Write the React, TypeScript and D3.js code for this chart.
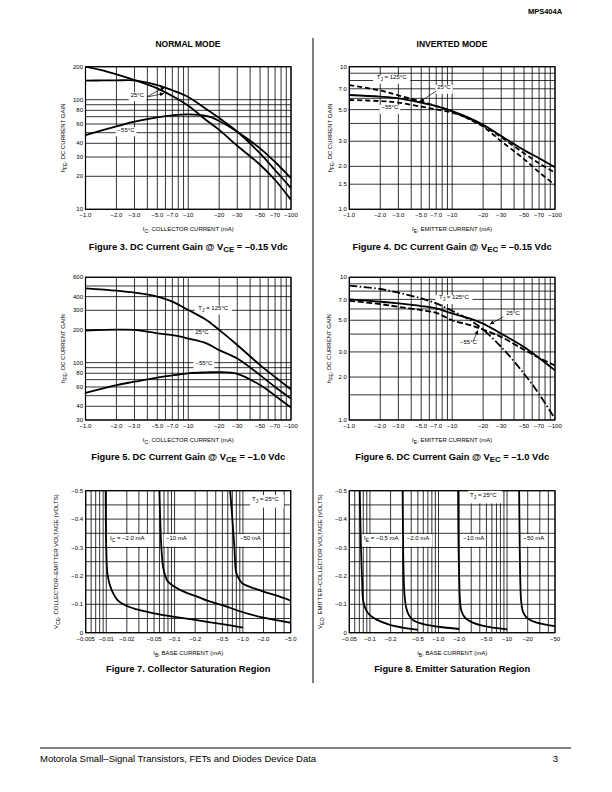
import * as d3 from "d3";

const FONT = "'Liberation Sans', Arial, Helvetica, sans-serif";

type Seg = string | { sub: string };

// ---------- shared axes ----------
const currentTicks = [1, 2, 3, 5, 7, 10, 20, 30, 50, 70, 100];
const currentTickLabels = ["−1.0", "−2.0", "−3.0", "−5.0", "−7.0", "−10", "−20", "−30", "−50", "−70", "−100"];

const base7Ticks = [0.005, 0.01, 0.02, 0.05, 0.1, 0.2, 0.5, 1, 2, 5];
const base7TickLabels = ["−0.005", "−0.01", "−0.02", "−0.05", "−0.1", "−0.2", "−0.5", "−1.0", "−2.0", "−5.0"];
const base8Ticks = [0.05, 0.1, 0.2, 0.5, 1, 2, 5, 10, 20, 50];
const base8TickLabels = ["−0.05", "−0.1", "−0.2", "−0.5", "−1.0", "−2.0", "−5.0", "−10", "−20", "−50"];

const gain3Ticks = [10, 20, 30, 40, 60, 80, 100, 200];
const gain3Grid = [10, 20, 30, 40, 50, 60, 70, 80, 90, 100, 200];
const gain4Ticks = [1, 1.5, 2, 3, 5, 7, 10];
const gain4TickLabels = ["1.0", "1.5", "2.0", "3.0", "5.0", "7.0", "10"];
const gainInvGrid = [1, 1.5, 2, 3, 4, 5, 6, 7, 8, 9, 10];
const gain5Ticks = [30, 40, 60, 80, 100, 200, 300, 400, 600];
const gain5Grid = [30, 40, 50, 60, 70, 80, 90, 100, 200, 300, 400, 500, 600];
const gain6Ticks = [1, 2, 3, 5, 7, 10];
const gain6TickLabels = ["1.0", "2.0", "3.0", "5.0", "7.0", "10"];

const voltTicks = [0, 0.1, 0.2, 0.3, 0.4, 0.5];
const voltTickLabels = ["0", "−0.1", "−0.2", "−0.3", "−0.4", "−0.5"];
const voltGrid = [0, 0.05, 0.1, 0.15, 0.2, 0.25, 0.3, 0.35, 0.4, 0.45, 0.5];

// ---------- Figure 3: hFE vs IC, VCE = -0.15 V ----------
const fig3X = [1, 1.5, 2, 3, 5, 7, 10, 15, 20, 30, 50, 70, 100];
const fig3Hot = [200, 184, 170, 151, 127, 108, 88, 65, 53, 38, 25.5, 18.5, 12.2];
const fig3Room = [149, 150, 150, 150, 136, 122, 106, 82, 68, 51, 32.4, 22.8, 15.6];
const fig3Cold = [47.6, 53, 57, 63, 69, 72, 73.5, 71, 64, 51, 36, 27, 19.2];

// ---------- Figure 4: inverted, VEC = -0.15 V ----------
const fig4X = [1, 2, 3, 5, 7, 10, 15, 20, 30, 50, 70, 100];
const fig4Hot = [7.44, 6.8, 6.3, 5.7, 5.3, 4.85, 4.25, 3.8, 3.0, 2.25, 1.82, 1.48];
const fig4Room = [6.33, 6.16, 6.0, 5.6, 5.3, 4.89, 4.35, 3.92, 3.27, 2.6, 2.28, 1.97];
const fig4Cold = [5.84, 5.74, 5.6, 5.25, 5.02, 4.76, 4.28, 3.86, 3.2, 2.47, 2.1, 1.81];

// ---------- Figure 5: hFE vs IC, VCE = -1.0 V ----------
const fig5X = [1, 2, 3, 5, 7, 10, 15, 20, 30, 50, 70, 100];
const fig5Hot = [476, 453, 435, 400, 360, 302, 245, 199, 145, 95, 74, 57];
const fig5Room = [196, 200, 199, 185, 178, 166, 150, 130, 109, 77, 60, 47];
const fig5Cold = [53, 62.5, 67, 73, 76.5, 80, 81.5, 82, 79, 62.5, 50, 39];

// ---------- Figure 6: inverted, VEC = -1.0 V ----------
const fig6X = [1, 2, 3, 5, 7, 10, 15, 20, 30, 50, 70, 100];
const fig6Hot = [8.74, 8.28, 7.8, 7.11, 6.56, 5.82, 5.0, 4.3, 3.25, 2.11, 1.52, 1.02];
const fig6Room = [7.0, 6.74, 6.56, 6.29, 6.05, 5.58, 5.14, 4.74, 4.03, 3.25, 2.72, 2.23];
const fig6Cold = [6.85, 6.49, 6.21, 5.89, 5.64, 5.0, 4.62, 4.3, 3.82, 3.11, 2.73, 2.41];

// ---------- Figure 7: collector saturation ----------
const ic2X = [0.0098, 0.01, 0.0105, 0.012, 0.015, 0.02, 0.03, 0.05, 0.1, 0.2, 0.5, 1.0];
const ic2V = [0.5, 0.3, 0.2, 0.15, 0.112, 0.094, 0.08, 0.068, 0.056, 0.045, 0.03, 0.018];
const ic10X = [0.06, 0.064, 0.068, 0.073, 0.08, 0.1, 0.15, 0.2, 0.3, 0.5, 1.0, 2.0, 5.0];
const ic10V = [0.5, 0.3, 0.23, 0.2, 0.18, 0.162, 0.14, 0.13, 0.113, 0.097, 0.072, 0.053, 0.035];
const ic50X = [0.65, 0.7, 0.75, 0.8, 0.9, 1.0, 1.5, 2.0, 3.0, 5.0];
const ic50V = [0.5, 0.4, 0.3, 0.21, 0.185, 0.172, 0.155, 0.145, 0.132, 0.113];

// ---------- Figure 8: emitter saturation ----------
const ie05X = [0.071, 0.074, 0.077, 0.08, 0.09, 0.1, 0.125, 0.2, 0.3, 0.5];
const ie05V = [0.5, 0.3, 0.18, 0.11, 0.075, 0.062, 0.046, 0.027, 0.018, 0.01];
const ie2X = [0.3, 0.305, 0.31, 0.32, 0.34, 0.37, 0.43, 0.6, 1.0, 2.0];
const ie2V = [0.5, 0.3, 0.2, 0.13, 0.085, 0.062, 0.044, 0.03, 0.021, 0.013];
const ie10X = [1.93, 1.96, 2.0, 2.05, 2.15, 2.4, 2.9, 4.5, 10];
const ie10V = [0.5, 0.3, 0.2, 0.12, 0.078, 0.055, 0.04, 0.024, 0.012];
const ie50X = [15.0, 15.3, 15.6, 16.0, 17.0, 19, 24, 34, 50];
const ie50V = [0.5, 0.3, 0.18, 0.115, 0.075, 0.055, 0.04, 0.03, 0.023];

// log grid lines 1..9 per decade
function logGrid(lo: number, hi: number) {
  const out: number[] = [];
  for (let e = Math.floor(Math.log10(lo)); e <= Math.ceil(Math.log10(hi)); e++) {
    for (let k = 1; k < 10; k++) {
      const v = +(k * Math.pow(10, e)).toPrecision(3);
      if (v >= lo * 0.999 && v <= hi * 1.001) out.push(v);
    }
  }
  return out;
}

function Rich({ parts, size }: { parts: Seg[]; size: number }) {
  let shifted = false;
  return (
    <>
      {parts.map((p, i) => {
        if (typeof p === "string") {
          const el = (
            <tspan key={i} dy={shifted ? -size * 0.3 : 0}>
              {p}
            </tspan>
          );
          shifted = false;
          return el;
        }
        shifted = true;
        return (
          <tspan key={i} dy={size * 0.3} fontSize={size * 0.85}>
            {p.sub}
          </tspan>
        );
      })}
    </>
  );
}

const textLen = (parts: Seg[], size: number) =>
  parts.reduce((s: number, p) => s + (typeof p === "string" ? p.length : p.sub.length * 0.85), 0) * size * 0.56;

type Series = { xs: number[]; ys: number[]; dash?: string };
type Note = { at: [number, number]; text: Seg[]; anchor?: "start" | "middle" };
type Arrow = { from: [number, number]; to: [number, number] };

type Spec = {
  id: string;
  l: number; r: number; t: number; b: number;
  xDomain: [number, number];
  yDomain: [number, number];
  yLog: boolean;
  xGrid: number[]; yGrid: number[];
  xTicks: number[]; xLabels: string[];
  yTicks: number[]; yLabels: string[];
  series: Series[];
  notes: Note[];
  noteBoxH: number;
  arrows: Arrow[];
  xTitle: Seg[]; yTitle: Seg[]; yTitleX: number;
  caption: Seg[]; captionY: number;
};

function Chart(s: Spec) {
  const x = d3.scaleLog().domain(s.xDomain).range([s.l, s.r]);
  const y = (s.yLog ? d3.scaleLog() : d3.scaleLinear()).domain(s.yDomain).range([s.b, s.t]);
  const line = d3
    .line<[number, number]>()
    .x((d) => x(d[0]))
    .y((d) => y(d[1]))
    .curve(d3.curveCatmullRom.alpha(0.5));
  const cx = (s.l + s.r) / 2;
  const fs = 6;
  return (
    <g>
      <clipPath id={"clip" + s.id}>
        <rect x={s.l} y={s.t} width={s.r - s.l} height={s.b - s.t} />
      </clipPath>
      {/* grid */}
      {s.xGrid.map((v) => (
        <line key={"gx" + v} x1={x(v)} x2={x(v)} y1={s.t} y2={s.b} stroke="#000" strokeWidth={0.8} />
      ))}
      {s.yGrid.map((v) => (
        <line key={"gy" + v} x1={s.l} x2={s.r} y1={y(v)} y2={y(v)} stroke="#000" strokeWidth={0.8} />
      ))}
      <rect x={s.l} y={s.t} width={s.r - s.l} height={s.b - s.t} fill="none" stroke="#000" strokeWidth={1.2} />
      {/* label boxes */}
      {s.notes.map((n, i) => {
        const w = textLen(n.text, fs) + 4;
        const px = x(n.at[0]);
        const left = n.anchor === "start" ? px - 2 : px - w / 2;
        return (
          <rect key={"nb" + i} x={left} y={y(n.at[1]) - s.noteBoxH / 2} width={w} height={s.noteBoxH} fill="#fff" />
        );
      })}
      {/* curves */}
      <g clipPath={`url(#clip${s.id})`}>
        {s.series.map((c, i) => (
          <path
            key={"c" + i}
            d={line(c.xs.map((v, k) => [v, c.ys[k]] as [number, number])) || ""}
            fill="none"
            stroke="#000"
            strokeWidth={1.8}
            strokeDasharray={c.dash}
          />
        ))}
      </g>
      {s.arrows.map((a, i) => (
        <line
          key={"a" + i}
          x1={x(a.from[0])}
          y1={y(a.from[1])}
          x2={x(a.to[0])}
          y2={y(a.to[1])}
          stroke="#000"
          strokeWidth={0.7}
          markerEnd="url(#arrowhead)"
        />
      ))}
      {s.notes.map((n, i) => (
        <text
          key={"nt" + i}
          x={x(n.at[0])}
          y={y(n.at[1])}
          dy="0.35em"
          fontSize={fs}
          textAnchor={n.anchor || "middle"}
        >
          <Rich parts={n.text} size={fs} />
        </text>
      ))}
      {/* tick labels */}
      {s.xTicks.map((v, i) => (
        <text key={"xt" + v} x={x(v)} y={s.b + 8} fontSize={fs} textAnchor="middle">
          {s.xLabels[i]}
        </text>
      ))}
      {s.yTicks.map((v, i) => (
        <text key={"yt" + v} x={s.l - 2.5} y={y(v)} dy="0.35em" fontSize={fs} textAnchor="end">
          {s.yLabels[i]}
        </text>
      ))}
      <text x={cx} y={s.b + 22} fontSize={fs} textAnchor="middle">
        <Rich parts={s.xTitle} size={fs} />
      </text>
      <text transform={`translate(${s.yTitleX},${(s.t + s.b) / 2}) rotate(-90)`} fontSize={fs} textAnchor="middle">
        <Rich parts={s.yTitle} size={fs} />
      </text>
      <text x={cx} y={s.captionY} fontSize={9.3} fontWeight="bold" textAnchor="middle">
        <Rich parts={s.caption} size={9.3} />
      </text>
    </g>
  );
}

const L = { l: 85.5, r: 291 };
const R = { l: 349.3, r: 555 };
const row1 = { t: 66.7, b: 209.3 };
const row2 = { t: 277.3, b: 420 };
const row3 = { t: 490.7, b: 632.7 };

const hfeTitle: Seg[] = ["h", { sub: "FE" }, ", DC CURRENT GAIN"];
const icTitle: Seg[] = ["I", { sub: "C" }, ", COLLECTOR CURRENT (mA)"];
const ieTitle: Seg[] = ["I", { sub: "E" }, ", EMITTER CURRENT (mA)"];
const ibTitle: Seg[] = ["I", { sub: "B" }, ", BASE CURRENT (mA)"];

const charts: Spec[] = [
  {
    id: "3", ...L, ...row1,
    xDomain: [1, 100], yDomain: [10, 200], yLog: true,
    xGrid: logGrid(1, 100), yGrid: gain3Grid,
    xTicks: currentTicks, xLabels: currentTickLabels,
    yTicks: gain3Ticks, yLabels: gain3Ticks.map(String),
    series: [
      { xs: fig3X, ys: fig3Hot },
      { xs: fig3X, ys: fig3Room },
      { xs: fig3X, ys: fig3Cold },
    ],
    notes: [
      { at: [3.2, 106], text: ["25°C"] },
      { at: [2.48, 51], text: ["−55°C"] },
    ],
    noteBoxH: 9,
    arrows: [
      { from: [4.0, 107], to: [5.9, 130] },
      { from: [4.0, 106], to: [5.8, 114] },
    ],
    xTitle: icTitle, yTitle: hfeTitle, yTitleX: 65,
    caption: ["Figure 3. DC Current Gain @ V", { sub: "CE" }, " = –0.15 Vdc"], captionY: 249.5,
  },
  {
    id: "4", ...R, ...row1,
    xDomain: [1, 100], yDomain: [1, 10], yLog: true,
    xGrid: logGrid(1, 100), yGrid: gainInvGrid,
    xTicks: currentTicks, xLabels: currentTickLabels,
    yTicks: gain4Ticks, yLabels: gain4TickLabels,
    series: [
      { xs: fig4X, ys: fig4Hot, dash: "5,3" },
      { xs: fig4X, ys: fig4Room },
      { xs: fig4X, ys: fig4Cold, dash: "5,3" },
    ],
    notes: [
      { at: [2.58, 8.16], text: ["T", { sub: "J" }, " = 125°C"] },
      { at: [8.33, 6.94], text: ["25°C"] },
      { at: [2.48, 5.02], text: ["−55°C"] },
    ],
    noteBoxH: 9,
    arrows: [{ from: [7.0, 6.75], to: [4.87, 5.68] }],
    xTitle: ieTitle, yTitle: hfeTitle, yTitleX: 332,
    caption: ["Figure 4. DC Current Gain @ V", { sub: "EC" }, " = –0.15 Vdc"], captionY: 249.5,
  },
  {
    id: "5", ...L, ...row2,
    xDomain: [1, 100], yDomain: [30, 600], yLog: true,
    xGrid: logGrid(1, 100), yGrid: gain5Grid,
    xTicks: currentTicks, xLabels: currentTickLabels,
    yTicks: gain5Ticks, yLabels: gain5Ticks.map(String),
    series: [
      { xs: fig5X, ys: fig5Hot },
      { xs: fig5X, ys: fig5Room },
      { xs: fig5X, ys: fig5Cold },
    ],
    notes: [
      { at: [17.5, 302], text: ["T", { sub: "J" }, " = 125°C"] },
      { at: [13.6, 181], text: ["25°C"] },
      { at: [14.2, 96], text: ["−55°C"] },
    ],
    noteBoxH: 9,
    arrows: [],
    xTitle: icTitle, yTitle: hfeTitle, yTitleX: 65,
    caption: ["Figure 5. DC Current Gain @ V", { sub: "CE" }, " = –1.0 Vdc"], captionY: 459.5,
  },
  {
    id: "6", ...R, ...row2,
    xDomain: [1, 100], yDomain: [1, 10], yLog: true,
    xGrid: logGrid(1, 100), yGrid: gainInvGrid,
    xTicks: currentTicks, xLabels: currentTickLabels,
    yTicks: gain6Ticks, yLabels: gain6TickLabels,
    series: [
      { xs: fig6X, ys: fig6Hot, dash: "8,2.5,1.5,2.5" },
      { xs: fig6X, ys: fig6Room },
      { xs: fig6X, ys: fig6Cold, dash: "6,2.5" },
    ],
    notes: [
      { at: [10.4, 6.99], text: ["T", { sub: "J" }, " = 125°C"] },
      { at: [39, 5.42], text: ["25°C"] },
      { at: [14.4, 3.39], text: ["−55°C"] },
    ],
    noteBoxH: 9,
    arrows: [
      { from: [31.4, 5.28], to: [23.3, 4.69] },
      { from: [16.05, 3.58], to: [17.8, 4.25] },
    ],
    xTitle: ieTitle, yTitle: hfeTitle, yTitleX: 331,
    caption: ["Figure 6. DC Current Gain @ V", { sub: "EC" }, " = –1.0 Vdc"], captionY: 459.5,
  },
  {
    id: "7", l: 85.7, r: 290.7, ...row3,
    xDomain: [0.005, 5], yDomain: [0, 0.5], yLog: false,
    xGrid: logGrid(0.005, 5), yGrid: voltGrid,
    xTicks: base7Ticks, xLabels: base7TickLabels,
    yTicks: voltTicks, yLabels: voltTickLabels,
    series: [
      { xs: ic2X, ys: ic2V },
      { xs: ic10X, ys: ic10V },
      { xs: ic50X, ys: ic50V },
    ],
    notes: [
      { at: [1.36, 0.4625], text: ["T", { sub: "J" }, " = 25°C"], anchor: "start" },
      { at: [0.0113, 0.325], text: ["I", { sub: "C" }, " = −2.0 mA"], anchor: "start" },
      { at: [0.0748, 0.325], text: ["−10 mA"], anchor: "start" },
      { at: [0.906, 0.325], text: ["−50 mA"], anchor: "start" },
    ],
    noteBoxH: 12.6,
    arrows: [],
    xTitle: ibTitle,
    yTitle: ["V", { sub: "CE" }, ", COLLECTOR–EMITTER VOLTAGE (VOLTS)"], yTitleX: 58,
    caption: ["Figure 7. Collector Saturation Region"], captionY: 671.5,
  },
  {
    id: "8", ...R, ...row3,
    xDomain: [0.05, 50], yDomain: [0, 0.5], yLog: false,
    xGrid: logGrid(0.05, 50), yGrid: voltGrid,
    xTicks: base8Ticks, xLabels: base8TickLabels,
    yTicks: voltTicks, yLabels: voltTickLabels,
    series: [
      { xs: ie05X, ys: ie05V },
      { xs: ie2X, ys: ie2V },
      { xs: ie10X, ys: ie10V },
      { xs: ie50X, ys: ie50V },
    ],
    notes: [
      { at: [2.88, 0.4775], text: ["T", { sub: "J" }, " = 25°C"], anchor: "start" },
      { at: [0.082, 0.325], text: ["I", { sub: "E" }, " = −0.5 mA"], anchor: "start" },
      { at: [0.343, 0.325], text: ["−2.0 mA"], anchor: "start" },
      { at: [2.3, 0.325], text: ["−10 mA"], anchor: "start" },
      { at: [17.3, 0.325], text: ["−50 mA"], anchor: "start" },
    ],
    noteBoxH: 12.6,
    arrows: [],
    xTitle: ibTitle,
    yTitle: ["V", { sub: "EC" }, ", EMITTER–COLLECTOR VOLTAGE (VOLTS)"], yTitleX: 322,
    caption: ["Figure 8. Emitter Saturation Region"], captionY: 671.5,
  },
];

export default function App() {
  return (
    <svg
      width={612}
      height={792}
      viewBox="0 0 612 792"
      style={{ position: "absolute", left: 0, top: 0, background: "#fff" }}
      fontFamily={FONT}
    >
      <defs>
        <marker id="arrowhead" viewBox="0 0 10 10" refX={10} refY={5} markerWidth={5} markerHeight={4} markerUnits="userSpaceOnUse" orient="auto">
          <path d="M0,0 L10,5 L0,10 z" fill="#000" />
        </marker>
      </defs>
      <rect width={612} height={792} fill="#fff" />
      <text x={545} y={14} fontSize={7.5} fontWeight={900} textAnchor="middle">MPS404A</text>
      <text x={188} y={47} fontSize={8.5} fontWeight="bold" textAnchor="middle">NORMAL MODE</text>
      <text x={452} y={47} fontSize={8.5} fontWeight="bold" textAnchor="middle">INVERTED MODE</text>
      <line x1={313} x2={313} y1={38} y2={683} stroke="#000" strokeWidth={1} />
      {charts.map((c) => (
        <Chart key={c.id} {...c} />
      ))}
      <line x1={40} x2={571} y1={748} y2={748} stroke="#000" strokeWidth={1} />
      <text x={40} y={762} fontSize={9.5}>Motorola Small–Signal Transistors, FETs and Diodes Device Data</text>
      <text x={558} y={762} fontSize={9.5} textAnchor="end">3</text>
    </svg>
  );
}
